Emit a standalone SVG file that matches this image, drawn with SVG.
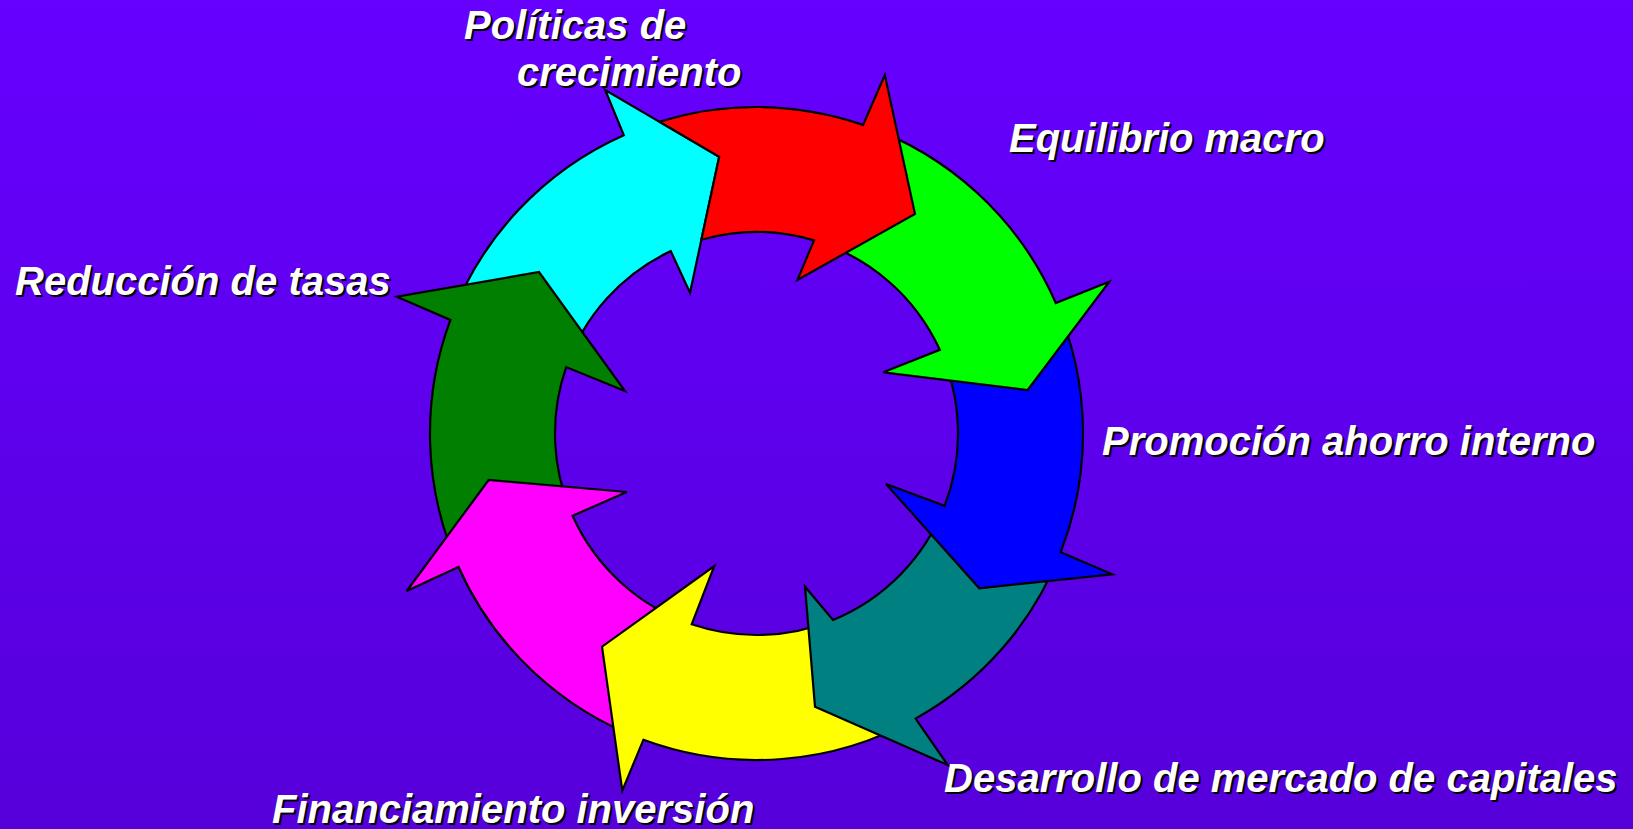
<svg xmlns="http://www.w3.org/2000/svg" width="1633" height="829" viewBox="0 0 1633 829">
  <defs>
    <linearGradient id="bg" x1="0" y1="0" x2="0" y2="1">
      <stop offset="0" stop-color="#6600FF"/>
      <stop offset="1" stop-color="#5600DA"/>
    </linearGradient>
  </defs>
  <style>
    .arrow { stroke: #000; stroke-width: 2.2; stroke-linejoin: miter; }
    .lbl { font-family: "Liberation Sans", Arial, sans-serif; font-weight: bold; font-style: italic; font-size: 40px; }
    .shadow { fill: #000; }
    .txt { fill: #FFFFFF; }
  </style>
  <rect id="background" x="0" y="0" width="1633" height="829" fill="url(#bg)"/>

  <g id="connectors">
    <g id="arrow-cyan">
      <path class="arrow" fill="#00FFFF" d="M450.4,319.9 A326.5,326.5 0 0 1 623.8,135.2 L605.2,90 L719.2,156.7 L690,292.7 L670.8,251.1 A201.5,201.5 0 0 0 566.2,367.1 Z"/>
    </g>
    <g id="arrow-darkgreen">
      <path class="arrow" fill="#007F00" d="M458.5,567 A326.5,326.5 0 0 1 450.4,319.9 L396.7,296.7 L539,272 L625,391 L566.2,367.1 A201.5,201.5 0 0 0 572.6,515.8 Z"/>
    </g>
    <g id="arrow-magenta">
      <path class="arrow" fill="#FF00FF" d="M643.4,739.8 A326.5,326.5 0 0 1 458.5,567 L406.7,591 L488.7,480 L626.7,492 L572.6,515.8 A201.5,201.5 0 0 0 691.7,624.3 Z"/>
    </g>
    <g id="arrow-yellow">
      <path class="arrow" fill="#FFFF00" d="M915.6,718.6 A326.5,326.5 0 0 1 643.4,739.8 L622.3,790.7 L602,646.7 L714.3,566 L691.7,624.3 A201.5,201.5 0 0 0 833,619.9 Z"/>
    </g>
    <g id="arrow-teal">
      <path class="arrow" fill="#008080" d="M1060.7,552.2 A326.5,326.5 0 0 1 915.6,718.6 L947.7,765 L815,706.7 L805,586.7 L833,619.9 A201.5,201.5 0 0 0 944.6,505.9 Z"/>
    </g>
    <g id="arrow-blue">
      <path class="arrow" fill="#0000FF" d="M1055.8,303.1 A326.5,326.5 0 0 1 1060.7,552.2 L1112.3,574.3 L979.3,588.3 L886,484 L944.6,505.9 A201.5,201.5 0 0 0 939.8,349.8 Z"/>
    </g>
    <g id="arrow-green">
      <path class="arrow" fill="#00FF00" d="M863.1,124.9 A326.5,326.5 0 0 1 1055.8,303.1 L1109.3,281.7 L1027.7,390 L883.3,372.3 L939.8,349.8 A201.5,201.5 0 0 0 814,240.4 Z"/>
    </g>
    <g id="arrow-red">
      <path class="arrow" fill="#FF0000" d="M659.5,121.7 A326.5,326.5 0 0 1 863.1,124.9 L884.8,75 L915,214 L797.4,280 L814,240.4 A201.5,201.5 0 0 0 701.4,239.7 L719.2,156.7 Z"/>
    </g>
  </g>

  <g id="label-politicas" class="lbl">
    <text class="shadow" x="466" y="41">Políticas de</text>
    <text class="shadow" x="519" y="88">crecimiento</text>
    <text class="txt" x="464" y="39">Políticas de</text>
    <text class="txt" x="517" y="86">crecimiento</text>
  </g>
  <g id="label-equilibrio" class="lbl">
    <text class="shadow" x="1011" y="154">Equilibrio macro</text>
    <text class="txt" x="1009" y="152">Equilibrio macro</text>
  </g>
  <g id="label-reduccion" class="lbl">
    <text class="shadow" x="17" y="297">Reducción de tasas</text>
    <text class="txt" x="15" y="295">Reducción de tasas</text>
  </g>
  <g id="label-promocion" class="lbl">
    <text class="shadow" x="1104" y="457">Promoción ahorro interno</text>
    <text class="txt" x="1102" y="455">Promoción ahorro interno</text>
  </g>
  <g id="label-desarrollo" class="lbl">
    <text class="shadow" x="946" y="794">Desarrollo de mercado de capitales</text>
    <text class="txt" x="944" y="792">Desarrollo de mercado de capitales</text>
  </g>
  <g id="label-financiamiento" class="lbl">
    <text class="shadow" x="274" y="825">Financiamiento inversión</text>
    <text class="txt" x="272" y="823">Financiamiento inversión</text>
  </g>
</svg>
